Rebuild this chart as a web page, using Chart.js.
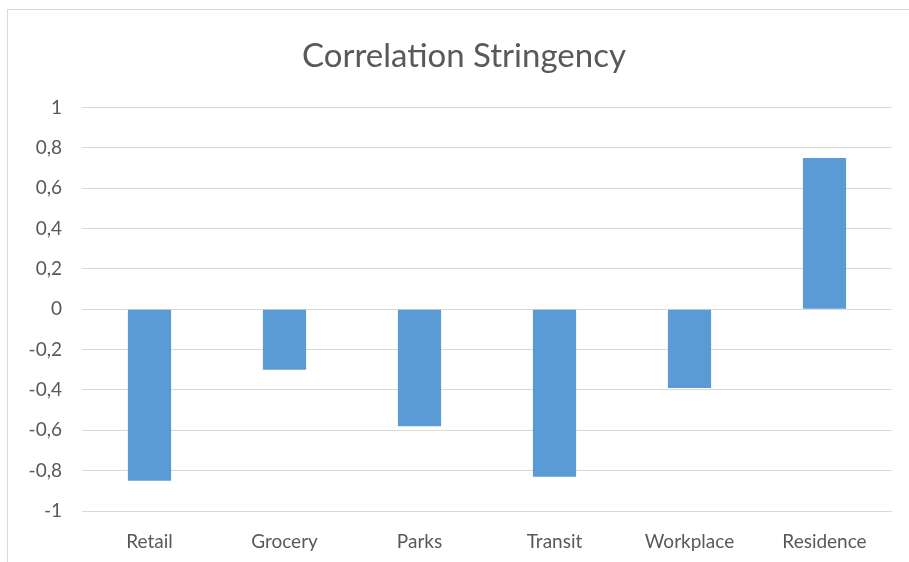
<!DOCTYPE html>
<html>
<head>
<meta charset="utf-8">
<script src="https://cdn.jsdelivr.net/npm/chart.js@4/dist/chart.umd.min.js"></script>
<style>
  html, body { margin: 0; padding: 0; background: #fff; }
  #frame { position: absolute; left: 7px; top: 9px; width: 910px; height: 560px; border: 1px solid #d9d9d9; }
  #wrap { position: absolute; left: 0; top: 0; width: 909px; height: 562px; }
</style>
</head>
<body>
<div id="frame"></div>
<div id="wrap"><canvas id="corrChart" width="909" height="562"></canvas></div>
<script>
// mobility categories and their correlation with stringency
const categories = ["Retail", "Grocery", "Parks", "Transit", "Workplace", "Residence"];
const correlation = [-0.85, -0.30, -0.58, -0.83, -0.39, 0.75];
const yTicks = [-1, -0.8, -0.6, -0.4, -0.2, 0, 0.2, 0.4, 0.6, 0.8, 1];

const TEXT_COLOR = "#595959";
const GRID_COLOR = "#d9d9d9";
const BAR_COLOR = "#5b9bd5";

function formatTick(value) {
  const v = Math.round(value * 100) / 100;
  return String(v === 0 ? 0 : v).replace(".", ",");
}

// left padding keeps the title centred like the original; let the y labels
// use that space too, otherwise they get clipped at the scale box
const widenYLabels = {
  id: "widenYLabels",
  afterLayout(chart) { chart.scales.y.left = 0; },
};

new Chart(document.getElementById("corrChart"), {
  type: "bar",
  data: {
    labels: categories,
    datasets: [{
      label: "Correlation Stringency",
      data: correlation,
      backgroundColor: BAR_COLOR,
      borderWidth: 0,
      categoryPercentage: 1,
      barPercentage: 0.32,
    }],
  },
  options: {
    responsive: false,
    animation: false,
    layout: { padding: { left: 36, right: 17, top: 0, bottom: 0 } },
    plugins: {
      legend: { display: false },
      tooltip: { enabled: false },
      title: {
        display: true,
        text: "Correlation Stringency",
        color: TEXT_COLOR,
        font: { family: "Lato", size: 33, weight: "normal" },
        padding: { top: 37, bottom: 31 },
      },
    },
    scales: {
      x: {
        afterFit: (scale) => { scale.height = 51; },
        grid: { display: false, drawTicks: false },
        border: { display: false },
        ticks: { color: TEXT_COLOR, font: { family: "Lato", size: 19 }, padding: 19 },
      },
      y: {
        min: -1,
        max: 1,
        afterBuildTicks: (scale) => { scale.ticks = yTicks.map((v) => ({ value: v })); },
        afterFit: (scale) => { scale.width = 46; },
        grid: { color: GRID_COLOR, lineWidth: 1, drawTicks: false },
        border: { display: false },
        ticks: { color: TEXT_COLOR, font: { family: "Lato", size: 19 }, padding: 20, callback: formatTick },
      },
    },
  },
  plugins: [widenYLabels],
});
</script>
</body>
</html>
